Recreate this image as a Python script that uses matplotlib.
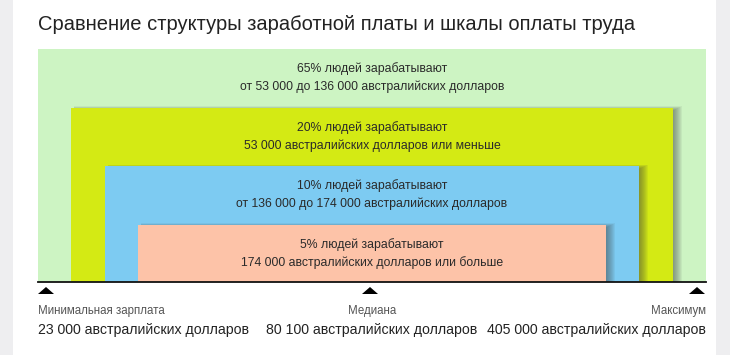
import matplotlib.pyplot as plt
from matplotlib.patches import Rectangle, Polygon

plt.rcParams['font.family'] = ['Liberation Sans', 'DejaVu Sans']

# data
title = 'Сравнение структуры заработной платы и шкалы оплаты труда'
shares = ['65%', '20%', '10%', '5%']
ranges = ['от 53 000 до 136 000 австралийских долларов',
          '53 000 австралийских долларов или меньше',
          'от 136 000 до 174 000 австралийских долларов',
          '174 000 австралийских долларов или больше']
colors = ['#cdf4c3', '#d4ea14', '#7dcbf2', '#fdc3a8']
marker_names = ['Минимальная зарплата', 'Медиана', 'Максимум']
marker_values = ['23 000 австралийских долларов', '80 100 австралийских долларов',
                 '405 000 австралийских долларов']

W, H = 730, 355
fig = plt.figure(figsize=(W / 100, H / 100), dpi=100)
fig.patch.set_facecolor('#eeeef0')
ax = fig.add_axes([0, 0, 1, 1])
ax.set_xlim(0, W)
ax.set_ylim(H, 0)
ax.axis('off')

# white card
ax.add_patch(Rectangle((13, 0), 703, H, facecolor='white', edgecolor='none', zorder=0))

ax.text(38, 25, title, fontsize=14.5, color='#222222', va='center', ha='left')

# nested boxes
left, right, top, base = 38, 706, 49, 282
for i, (s, r, c) in enumerate(zip(shares, ranges, colors)):
    x0 = left + 33.3 * i
    x1 = right - 33.5 * i
    y0 = top + 58.5 * i
    if i > 0:
        # soft shadow on the right
        for k in range(1, 10):
            ax.add_patch(Rectangle((x0 + 3, y0 + 3 - 0.5 * k), x1 - x0 - 3 + k,
                                   base - y0 - 3 + 0.5 * k,
                                   facecolor='#444444', alpha=0.07,
                                   edgecolor='none', zorder=1 + i))
    ax.add_patch(Rectangle((x0, y0), x1 - x0, base - y0, facecolor=c,
                           edgecolor='none', zorder=1 + i + 0.5))
    ax.text(372, y0 + 20, s + ' людей зарабатывают', fontsize=8.8, color='#2a2a2a',
            ha='center', va='center', zorder=10)
    ax.text(372, y0 + 38, r, fontsize=8.8, color='#2a2a2a',
            ha='center', va='center', zorder=10)

ax.plot([left, right], [base, base], color='#111111', lw=1.3, zorder=11)

# markers below
mx = [46, 370, 697]
aligns = ['left', 'center', 'right']
tx = [38, 372, 706]
for m, a, t, n, v in zip(mx, aligns, tx, marker_names, marker_values):
    ax.add_patch(Polygon([(m - 8, 294), (m + 8, 294), (m, 287)], closed=True,
                         facecolor='black', edgecolor='none', zorder=11))
    ax.text(t, 311, n, fontsize=8.3, color='#555555', ha=a, va='center')
    ax.text(t, 330, v, fontsize=10.2, color='#222222', ha=a, va='center')

fig.savefig('out.png', dpi=100, facecolor=fig.get_facecolor())
